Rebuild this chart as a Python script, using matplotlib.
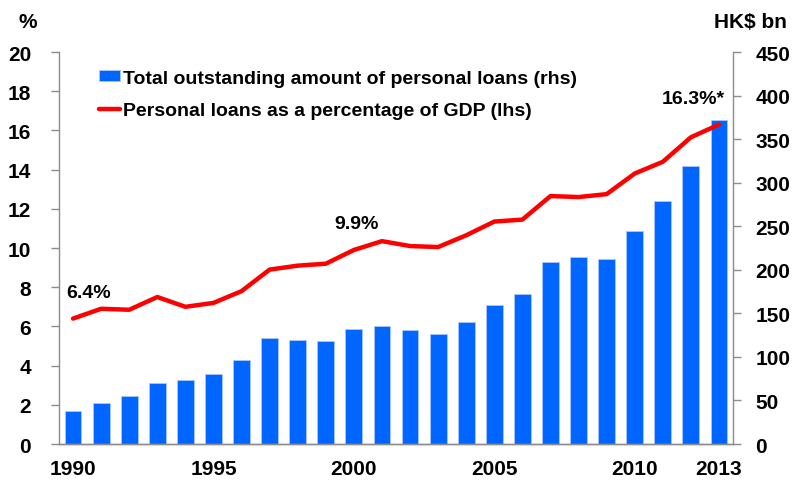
import matplotlib.pyplot as plt
import numpy as np

plt.rcParams['font.family'] = ['Liberation Sans', 'DejaVu Sans']
plt.rcParams['font.weight'] = 'bold'

years = list(range(1990, 2014))
# total outstanding amount of personal loans, HK$ bn (rhs)
loans_bn = [38, 47, 55, 70, 73, 80, 97, 122, 119, 118, 132, 136,
            131, 126, 140, 160, 172, 209, 215, 212, 245, 279, 319, 372]
# personal loans as % of GDP (lhs)
loans_pct = [6.4, 6.9, 6.85, 7.5, 7.0, 7.2, 7.8, 8.9, 9.1, 9.2, 9.9, 10.35,
             10.1, 10.05, 10.65, 11.35, 11.45, 12.65, 12.6, 12.75, 13.8, 14.4, 15.65, 16.3]
xtick_years = [1990, 1995, 2000, 2005, 2010, 2013]
notes = {1990: '6.4%', 2000: '9.9%', 2013: '16.3%*'}

blue = '#0066ff'
red = '#ff0000'
grey = '#8c8c8c'

fig = plt.figure(figsize=(7.93, 4.81), dpi=100)
ax = fig.add_axes([0.0744, 0.0748, 0.85, 0.815])
ax2 = ax.twinx()

x = np.arange(len(years))
ax2.bar(x, loans_bn, width=0.6, color=blue, edgecolor='#a8c8ff', linewidth=0.6,
        label='Total outstanding amount of personal loans (rhs)')
ax.plot(x, loans_pct, color=red, lw=3.2, solid_capstyle='round',
        label='Personal loans as a percentage of GDP (lhs)')

# keep line in front of bars
ax.set_zorder(ax2.get_zorder() + 1)
ax.patch.set_visible(False)

ax.set_xlim(-0.5, len(years) - 0.5)
ax.set_ylim(0, 20)
ax2.set_ylim(0, 450)
ax.set_yticks(range(0, 21, 2))
ax2.set_yticks(range(0, 451, 50))
ax.set_xticks([years.index(y) for y in xtick_years])
ax.set_xticklabels([str(y) for y in xtick_years])

for a in (ax, ax2):
    a.spines['top'].set_visible(False)
    for s in a.spines.values():
        s.set_color(grey)
        s.set_linewidth(1)
    a.tick_params(labelsize=15, color=grey, length=6, width=1)
ax.spines['right'].set_visible(False)
ax2.spines['left'].set_visible(False)
ax.tick_params(axis='x', length=0, pad=11)
ax.tick_params(axis='y', pad=14)
ax2.tick_params(axis='y', pad=10)

offsets = {1990: 0.55, 2000: 0.1, 2013: -0.9}
for yr, txt in notes.items():
    i = years.index(yr)
    ax.text(i + offsets[yr], loans_pct[i] + 0.9, txt,
            ha='center', va='bottom', fontsize=14, fontweight='bold')

fig.text(0.035, 0.953, '%', ha='center', va='center', fontsize=15, fontweight='bold')
fig.text(0.946, 0.953, 'HK$ bn', ha='center', va='center', fontsize=15, fontweight='bold')

h1, l1 = ax2.get_legend_handles_labels()
h2, l2 = ax.get_legend_handles_labels()
leg = ax.legend(h1 + h2, l1 + l2, loc='upper left', bbox_to_anchor=(0.033, 1.0),
                frameon=False, fontsize=14, handlelength=1.1, handleheight=0.45,
                handletextpad=0.15, labelspacing=0.8)

fig.savefig('out.png', dpi=100)
